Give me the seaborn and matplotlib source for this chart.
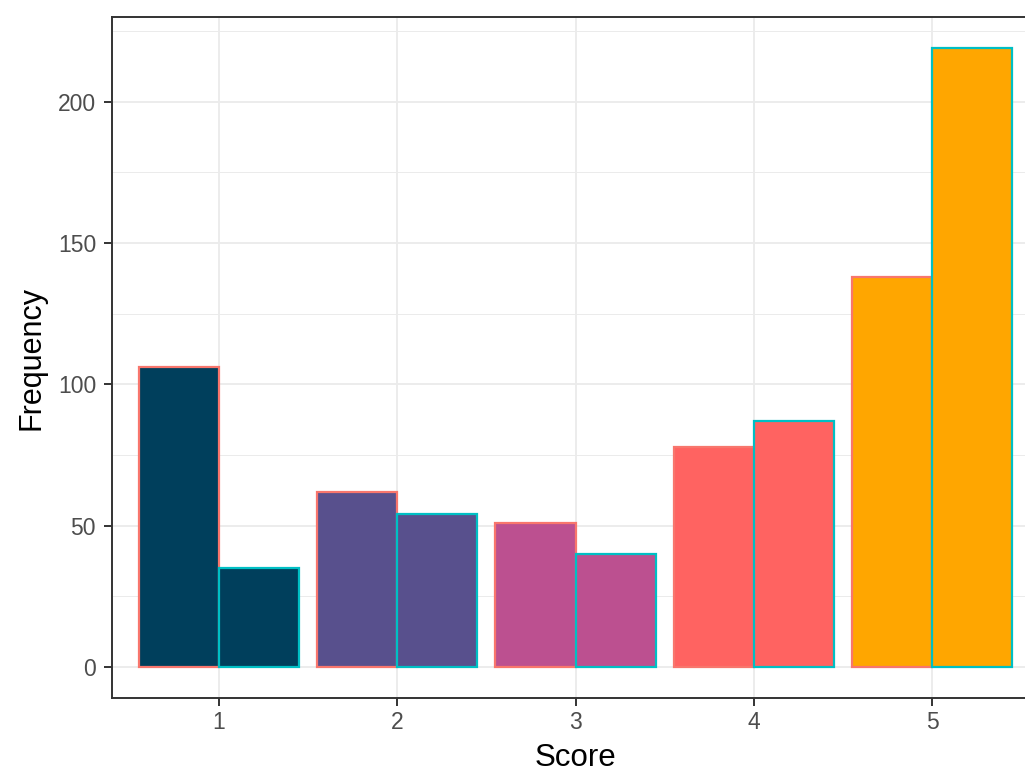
import pandas as pd
import matplotlib.pyplot as plt
from matplotlib.ticker import MultipleLocator
import seaborn as sns

# --- data ---
scores = ["1", "2", "3", "4", "5"]
groups = ["A", "B"]
freq_a = [106, 62, 51, 78, 138]
freq_b = [35, 54, 40, 87, 219]

score_colors = ["#003f5c", "#58508d", "#bc5090", "#ff6361", "#ffa600"]
group_edges = ["#F8766D", "#00BFC4"]

df = pd.DataFrame({
    "Score": scores * 2,
    "group": [groups[0]] * len(scores) + [groups[1]] * len(scores),
    "Frequency": freq_a + freq_b,
})

sns.set_theme(style="ticks")
plt.rcParams["font.family"] = ["Liberation Sans", "DejaVu Sans"]

fig = plt.figure(figsize=(10.25, 7.74), dpi=100)
# panel runs past the right and top edge, like the cropped reference
ax = fig.add_axes([0.1093, 0.0982, 0.9044, 0.8798])

sns.barplot(data=df, x="Score", y="Frequency", hue="group", order=scores,
            hue_order=groups, width=0.9, dodge=True, legend=False, ax=ax,
            err_kws={"linewidth": 0})

# fill by score, outline by group
for gi, container in enumerate(ax.containers):
    for si, bar in enumerate(container):
        bar.set_facecolor(score_colors[si])
        bar.set_edgecolor(group_edges[gi])
        bar.set_linewidth(1.6)
        bar.set_zorder(3 + gi)

ax.set_xlim(-0.6, 4.6)
ymax = max(freq_a + freq_b)
ax.set_ylim(-0.05 * ymax, 1.05 * ymax)
ax.yaxis.set_major_locator(MultipleLocator(50))
ax.yaxis.set_minor_locator(MultipleLocator(25))

ax.grid(which="major", color="#EBEBEB", linewidth=1.3, zorder=0)
ax.grid(which="minor", axis="y", color="#EBEBEB", linewidth=0.7, zorder=0)
ax.set_axisbelow(True)

for side in ax.spines.values():
    side.set_color("#333333")
    side.set_linewidth(1.4)

ax.tick_params(axis="both", which="major", colors="#333333", labelcolor="#4D4D4D",
               labelsize=16.5, length=5.5, width=1.4, pad=4)
ax.tick_params(axis="y", which="major", pad=6)
ax.tick_params(axis="y", which="minor", length=0)
ax.set_xlabel("Score", fontsize=22.5, color="black", labelpad=6)
ax.set_ylabel("Frequency", fontsize=22, color="black", labelpad=8)

plt.savefig("out.png", dpi=100)
plt.close()
